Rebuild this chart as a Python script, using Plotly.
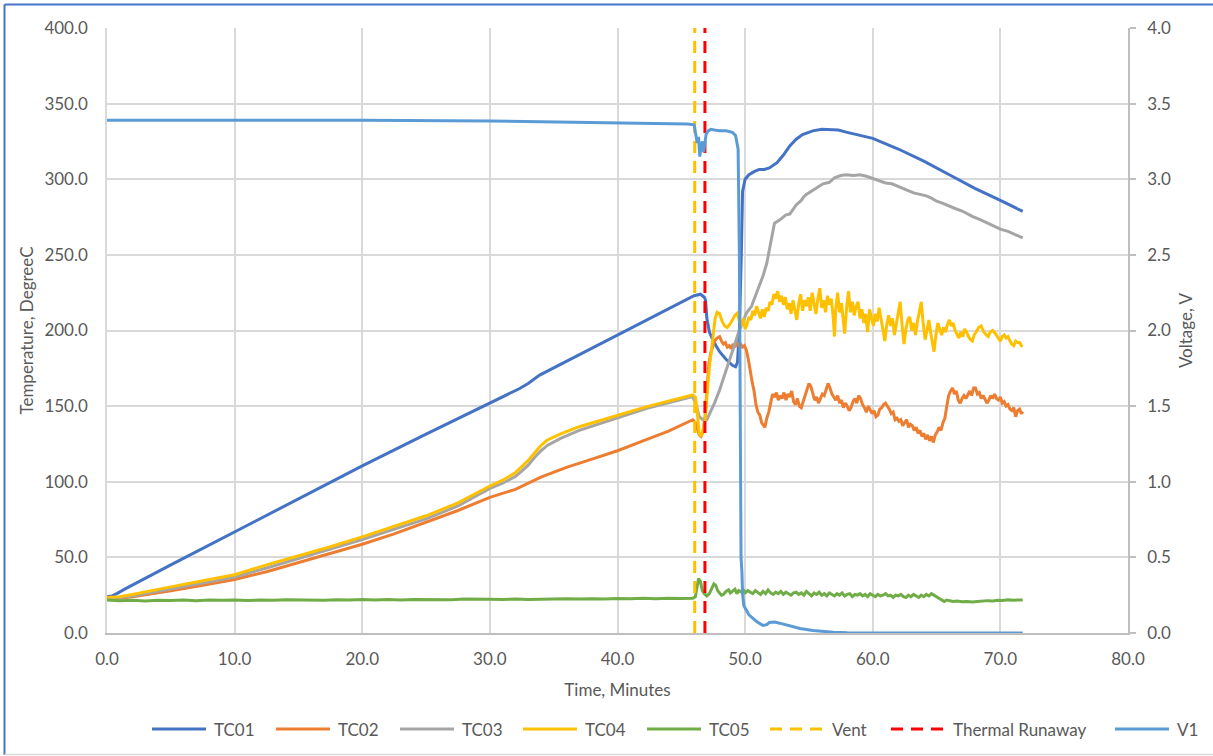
import plotly.graph_objects as go

# ---------------- data ----------------
tc01_t = [0, 0.4, 0.8, 1.5, 5, 10, 15, 20, 25, 30, 31, 31.8, 32.3, 33.0, 33.9, 35, 40, 45, 46.0, 46.5,
          46.8, 46.9, 47.0, 47.2, 47.5, 48.0, 48.5, 49.0, 49.25, 49.4, 49.55, 49.7, 49.8, 50.0, 50.3,
          50.7, 51.1, 51.5, 51.9, 52.5, 53.0, 53.5, 54.0, 54.5, 55.3, 56.0, 56.7, 57.3, 58.0, 59.0,
          60.0, 62.0, 64.0, 66.0, 68.0, 70.0, 71.75]
tc01_v = [24, 24.5, 26.2, 29.5, 45, 67, 89, 110.5, 131.5, 152.3, 156.5, 159.5, 161.5, 165, 170.5, 175.3,
          197, 219, 223, 224, 222, 220, 208, 199, 193, 186, 181, 177, 176, 179, 200, 250, 292, 300, 303,
          305, 306.5, 306.5, 307.5, 311, 316, 322, 326.5, 329.5, 332, 333, 333, 332.5, 331, 329,
          327, 320, 312, 303, 294, 286, 278.8]

tc02_t = [0, 1, 2, 3, 5, 7.5, 10, 12.5, 15, 17.5, 20, 22.5, 25, 27.5, 30, 32, 34, 36, 38, 40, 42, 44,
          45.9, 46.1, 46.25, 46.4, 46.55, 46.7, 46.85, 47.0, 47.15, 47.3, 47.45, 47.6, 47.8, 48.0, 48.15,
          48.3, 48.45, 48.6, 48.75, 48.9, 49.05, 49.2, 49.35, 49.5, 49.65, 49.8, 49.95, 50.1, 50.25,
          50.4, 50.55, 50.7, 50.85, 51.0, 51.15, 51.3, 51.45, 51.55, 51.7, 51.85, 52.0, 52.15, 52.3,
          52.45, 52.6, 52.75, 52.9, 53.05, 53.2, 53.35, 53.5, 53.65, 53.8, 53.95, 54.1, 54.25, 54.4,
          54.55, 54.7, 54.85, 55.0, 55.15, 55.3, 55.45, 55.6, 55.75, 55.9, 56.05, 56.2, 56.35, 56.5,
          56.65, 56.8, 56.95, 57.1, 57.25, 57.4, 57.55, 57.7, 57.85, 58.0, 58.15, 58.3, 58.45, 58.6,
          58.75, 58.9, 59.05, 59.2, 59.35, 59.5, 59.65, 59.8, 59.95, 60.1, 60.25, 60.4, 60.55, 60.7,
          60.85, 61.0, 61.15, 61.3, 61.45, 61.6, 61.75, 61.9, 62.05, 62.2, 62.35, 62.5, 62.65, 62.8,
          62.95, 63.1, 63.25, 63.4, 63.55, 63.7, 63.85, 64.0, 64.15, 64.3, 64.45, 64.6, 64.75, 64.9,
          65.05, 65.2, 65.35, 65.5, 65.65, 65.8, 65.95, 66.1, 66.25, 66.4, 66.55, 66.7, 66.85, 67.0,
          67.15, 67.3, 67.45, 67.6, 67.75, 67.9, 68.05, 68.2, 68.35, 68.5, 68.65, 68.8, 68.95, 69.1,
          69.25, 69.4, 69.55, 69.7, 69.85, 70.0, 70.15, 70.3, 70.45, 70.6, 70.75, 70.9, 71.05, 71.2,
          71.35, 71.5, 71.65, 71.75]
tc02_v = [22.8, 23, 24, 25.5, 28, 31.5, 35.4, 40.5, 46.5, 52.5, 58.7, 65.5, 73.5, 81, 89.7, 95, 103,
          109.5, 115, 120.5, 127, 133.5,
          141, 139, 135, 131, 130, 133, 142, 160, 177, 185, 189, 193, 195, 196, 193,
          191, 192, 189, 190, 188, 191, 189, 192, 190, 191, 189, 190, 187, 181,
          172, 166, 160, 151, 146, 144, 139, 137, 136, 142, 146, 152, 158, 156,
          159, 154, 157, 155, 159, 154, 158, 156, 160, 153, 151, 155, 150, 149,
          153, 158, 161, 165, 163, 158, 154, 156, 152, 155, 158, 157, 161, 165,
          162, 158, 156, 154, 157, 152, 154, 149, 152, 150, 147, 149, 153, 155,
          152, 157, 155, 151, 149, 146, 150, 147, 145, 147, 143, 144, 148, 149,
          151, 152, 150, 148, 145, 146, 141, 142, 140, 141, 137, 139, 141, 136,
          138, 137, 134, 136, 132, 134, 130, 132, 128, 131, 127, 130, 126, 131,
          133, 136, 134, 139, 142, 150, 157, 160, 162, 158, 160, 154, 152, 155,
          157, 155, 158, 160, 157, 162, 162, 158, 159, 155, 157, 154, 152, 154,
          157, 155, 158, 155, 154, 156, 152, 153, 150, 151, 148, 147, 149, 143,
          147, 148, 145, 146.5]

tc03_t = [0, 1, 2, 3, 5, 7.5, 10, 12.5, 15, 17.5, 20, 22.5, 25, 27.5, 30, 31, 32, 32.5, 33, 33.5, 34,
          34.5, 35.5, 37, 39.6, 42.3, 45.9, 46.2, 46.4, 46.7, 47.0, 47.3, 47.6, 48.0, 48.5, 49.0, 49.5,
          50.1, 50.5, 50.9, 51.1, 51.4, 51.7, 52.0, 52.3, 52.7, 53.0, 53.2, 53.5, 53.8, 54.0, 54.4,
          54.6, 54.8, 55.3, 55.7, 56.1, 56.6, 57.0, 57.5, 57.9, 58.5, 59.0, 59.5, 60.0, 60.5, 61.0,
          61.5, 62.1, 62.6, 63.2, 63.7, 64.2, 64.6, 65.0, 65.5, 66.0, 66.5, 67.0, 67.8, 68.5, 69.0,
          69.6, 70.0, 70.6, 71.0, 71.75]
tc03_v = [23, 23.5, 24.5, 26, 29, 33, 37, 43, 49.5, 55.5, 61.8, 68.5, 75.5, 84, 95.6, 99, 103.5, 107,
          111, 116, 120.5, 124, 128.5, 134, 141, 148.5, 156.3, 150, 143, 141, 141, 146, 152, 160.7,
          174, 187, 199, 211.5, 216, 225, 229, 236, 244.6, 258, 271, 273, 275.5, 276.5, 277, 281,
          283, 286, 288.5, 290, 292.5, 295, 297, 298, 301, 302.5, 303, 302.5, 303, 302, 300.5,
          299.5, 297.5, 297, 295, 293.5, 291, 290, 289, 287.5, 285.5, 284, 282, 280.5, 279, 275.5,
          273, 271, 269, 267, 265.5, 264, 261.2]

tc04_t = [0, 1, 2, 3, 5, 7.5, 10, 12.5, 15, 17.5, 20, 22.5, 25, 27.5, 30, 31, 32, 32.5, 33, 33.5, 34,
          34.5, 35.5, 37, 39.6, 42.3, 45.9, 46.1, 46.25, 46.4, 46.55, 46.7, 46.85, 47.0, 47.2, 47.35,
          47.5, 47.65, 47.8, 48.0, 48.2, 48.4, 48.6, 48.8, 49.0, 49.2, 49.4, 49.55, 49.7, 49.85, 50.0,
          50.15, 50.3, 50.45, 50.6, 50.75, 50.9, 51.05, 51.2, 51.35, 51.5, 51.65, 51.8, 51.95, 52.1,
          52.25, 52.4, 52.55, 52.7, 52.85, 53.0, 53.15, 53.3, 53.45, 53.6, 53.75, 53.9, 54.05, 54.2,
          54.35, 54.5, 54.65, 54.8, 54.95, 55.1, 55.25, 55.4, 55.55, 55.7, 55.85, 56.0, 56.15, 56.3,
          56.45, 56.6, 56.75, 56.9, 57.0, 57.1, 57.25, 57.4, 57.55, 57.7, 57.8, 57.95, 58.1, 58.25,
          58.4, 58.55, 58.7, 58.85, 59.0, 59.15, 59.3, 59.45, 59.6, 59.75, 59.9, 60.05, 60.2, 60.35,
          60.5, 60.65, 60.8, 60.95, 61.1, 61.25, 61.4, 61.55, 61.7, 61.85, 62.0, 62.15, 62.3, 62.45,
          62.6, 62.75, 62.9, 63.05, 63.2, 63.35, 63.5, 63.65, 63.8, 63.95, 64.1, 64.25, 64.4, 64.55,
          64.7, 64.8, 64.95, 65.1, 65.25, 65.4, 65.55, 65.7, 65.85, 66.0, 66.15, 66.3, 66.45, 66.6,
          66.75, 66.9, 67.05, 67.2, 67.35, 67.5, 67.65, 67.8, 67.95, 68.1, 68.3, 68.5, 68.7, 68.9,
          69.05, 69.2, 69.4, 69.6, 69.8, 70.0, 70.15, 70.3, 70.45, 70.6, 70.75, 70.9, 71.05, 71.2,
          71.35, 71.5, 71.65, 71.75]
tc04_v = [23.5, 24, 25.5, 27, 30.5, 34.5, 38.5, 45, 51, 57, 63.6, 70.5, 77.5, 86, 97.2, 101, 106, 110,
          114, 119, 124, 127.6, 131.5, 136.4, 143, 149.7, 157.4, 156, 146, 132, 130, 134, 140, 158,
          176, 186, 199, 208, 212, 211, 206, 203, 202, 204, 207, 210, 211.5, 206, 203, 208, 201,
          204, 209, 207, 213, 210, 216, 212, 208, 214, 209, 215, 213, 219, 217,
          224, 221, 226, 219, 223, 217, 222, 214, 218, 211, 220, 214, 207, 218,
          224, 213, 220, 216, 222, 213, 225, 218, 211, 221, 228, 215, 220, 212,
          223, 217, 221, 209, 196, 214, 225, 212, 218, 206, 198, 215, 226, 212,
          219, 210, 216, 219, 208, 214, 205, 211, 199, 214, 209, 203, 211, 206,
          215, 208, 201, 193, 204, 210, 203, 208, 197, 205, 212, 219, 203, 191,
          201, 207, 209, 200, 205, 197, 206, 212, 219, 205, 194, 200, 207, 198,
          190, 186, 197, 205, 201, 197, 202, 199, 204, 207, 203, 205, 200, 197,
          195, 199, 196, 201, 199, 196, 194, 193, 197, 199, 202, 203, 199, 197,
          196, 199, 200, 198, 195, 193, 196, 197, 195, 196, 193, 191, 190, 193,
          192, 192, 190, 190.5]

tc05_t = [0, 1, 2, 3, 4, 5, 6, 7, 8, 9, 10, 11, 12, 13, 14, 15, 16, 17, 18, 19, 20, 21, 22, 23, 24,
          25, 26, 27, 28, 29, 30, 31, 32, 33, 34, 35, 36, 37, 38, 39, 40, 41, 42, 43, 44, 45, 45.9,
          46.1, 46.25, 46.35, 46.5, 46.65, 46.8, 47.0, 47.2, 47.4, 47.55, 47.7, 47.85, 48.0, 48.15,
          48.3, 48.5, 48.7, 48.85, 49.0, 49.2, 49.35, 49.5, 49.7, 49.85, 50.0, 50.2, 50.4, 50.6, 50.8,
          51.0, 51.2, 51.4, 51.6, 51.8, 52.0, 52.2, 52.4, 52.6, 52.8, 53.0, 53.2, 53.4, 53.6, 53.8,
          54.0, 54.2, 54.4, 54.6, 54.8, 55.0, 55.2, 55.4, 55.6, 55.8, 56.0, 56.2, 56.4, 56.6, 56.8,
          57.0, 57.2, 57.4, 57.6, 57.8, 58.0, 58.2, 58.4, 58.6, 58.8, 59.0, 59.2, 59.4, 59.6, 59.8,
          60.0, 60.2, 60.4, 60.6, 60.8, 61.0, 61.2, 61.4, 61.6, 61.8, 62.0, 62.2, 62.4, 62.6, 62.8,
          63.0, 63.2, 63.4, 63.6, 63.8, 64.0, 64.2, 64.4, 64.6, 64.8, 65.0, 65.2, 65.4, 65.6, 65.8,
          66.0, 66.3, 66.6, 67.0, 67.4, 67.8, 68.2, 68.6, 69.0, 69.4, 69.8, 70.2, 70.6, 71.0, 71.4,
          71.75]
tc05_v = [21.8, 21.3, 21.6, 21.2, 21.7, 21.5, 21.9, 21.4, 21.8, 21.6, 21.9, 21.5, 21.8, 21.6, 22.0,
          21.7, 21.9, 21.6, 22.0, 21.8, 22.1, 21.8, 22.2, 21.9, 22.1, 22.0, 22.3, 22.0, 22.4, 22.1,
          22.3, 22.2, 22.5, 22.2, 22.5, 22.3, 22.6, 22.4, 22.7, 22.4, 22.8, 22.6, 22.9, 22.7, 23.0,
          22.8, 23.0,
          24, 31, 36, 34, 28, 26, 24.5, 26, 30, 32.5, 31.5, 28, 26.5, 25,
          25.5, 27.5, 28.5, 26.5, 27.5, 29, 26, 28, 27, 28.5, 26.5, 28, 27, 26, 28,
          26.5, 25.5, 27.5, 26, 28.5, 26.5, 25.5, 27, 26, 27.5, 25.5, 27, 26, 25, 26.5,
          27, 25.5, 26.5, 25, 27.5, 26, 24.5, 26.5, 25.5, 27, 25, 26, 24.5, 26.5, 25.5,
          24.5, 26, 25, 26.5, 24.5, 25.5, 26, 24, 25.5, 25, 26, 24.5, 25.5, 24, 26,
          25, 24, 25.5, 24.5, 25, 26, 24.5, 25, 23.5, 25, 24.5, 25.5, 24, 23.5, 25,
          24, 25.5, 24.5, 23.5, 25, 24, 25.5, 24.5, 26, 25, 24, 23, 21.5, 20.8, 21.8,
          21.5, 20.8, 21.2, 20.6, 20.9, 20.5, 20.8, 21.2, 21.4, 21.2, 21.7, 21.5, 21.9, 21.7, 22.0,
          21.9]

v1_t = [0, 10, 20, 30, 35, 40, 44, 45.5, 46.0, 46.1, 46.25, 46.35, 46.45, 46.55, 46.65, 46.75, 46.85,
        46.95, 47.1, 47.3, 47.6, 48.0, 48.5, 49.0, 49.25, 49.45, 49.55, 49.62, 49.68, 49.75, 49.8,
        49.9, 50.1, 50.3, 50.7, 51.0, 51.4, 51.7, 51.9, 52.3, 52.7, 53.3, 54.3, 55.3, 56.0, 56.9,
        58.0, 60.0, 62.0, 71.75]
v1_v = [3.39, 3.39, 3.39, 3.385, 3.38, 3.375, 3.37, 3.365, 3.36, 3.30, 3.24, 3.28, 3.15, 3.22, 3.25,
        3.18, 3.23, 3.30, 3.32, 3.33, 3.325, 3.32, 3.32, 3.31, 3.29, 3.2, 2.5, 1.0, 0.5, 0.4, 0.26,
        0.18, 0.15, 0.12, 0.09, 0.07, 0.05, 0.055, 0.07, 0.072, 0.065, 0.05, 0.03, 0.017, 0.01, 0.005,
        0.002, 0.001, 0.0, 0.0]

vent_time = 46.05
runaway_time = 46.85

# ---------------- styling ----------------
FONT = "Lato"
TEXT = "#595959"
GRID = "#D9D9D9"
AXIS = "#BFBFBF"

W, H = 1213, 756
M_L, M_R, M_T, M_B = 107, 85, 28, 123
PW, PH = W - M_L - M_R, H - M_T - M_B


def px_x(px):
    return (px - M_L) / PW


def px_y(py):
    return (H - M_B - py) / PH


series = [
    ("TC01", tc01_t, tc01_v, "#4472C4", "solid", "y"),
    ("TC02", tc02_t, tc02_v, "#ED7D31", "solid", "y"),
    ("TC03", tc03_t, tc03_v, "#A5A5A5", "solid", "y"),
    ("TC04", tc04_t, tc04_v, "#FFC000", "solid", "y"),
    ("TC05", tc05_t, tc05_v, "#70AD47", "solid", "y"),
    ("Vent", [vent_time, vent_time], [0, 400], "#FFC000", "12px,8px", "y"),
    ("Thermal Runaway", [runaway_time, runaway_time], [0, 400], "#FF0000", "12px,8px", "y"),
    ("V1", v1_t, v1_v, "#5B9BD5", "solid", "y2"),
]

fig = go.Figure()
for name, xs, ys, color, dash, yax in series:
    fig.add_trace(go.Scatter(
        x=xs, y=ys, name=name, mode="lines", yaxis=yax,
        line=dict(color=color, width=3, dash=dash),
        showlegend=False, hoverinfo="skip",
    ))

# legend drawn along the bottom of the chart
legend_x = [152, 276, 400, 523, 647, 770, 891, 1115]
legend_y = 729
shapes = []
annotations = []
for (name, _, _, color, dash, _), lx in zip(series, legend_x):
    shapes.append(dict(type="line", xref="paper", yref="paper",
                       x0=px_x(lx), x1=px_x(lx + 54), y0=px_y(legend_y), y1=px_y(legend_y),
                       line=dict(color=color, width=3, dash=dash)))
    annotations.append(dict(xref="paper", yref="paper", x=px_x(lx + 60), y=px_y(legend_y),
                            text=name, showarrow=False, xanchor="left", yanchor="middle",
                            font=dict(family=FONT, size=17, color=TEXT)))

# chart frame
shapes += [
    dict(type="line", xref="paper", yref="paper", x0=px_x(4.5), x1=px_x(4.5),
         y0=px_y(4.5), y1=px_y(755), line=dict(color="#4472C4", width=2)),
    dict(type="line", xref="paper", yref="paper", x0=px_x(4.5), x1=px_x(1220),
         y0=px_y(4.5), y1=px_y(4.5), line=dict(color="#4472C4", width=2)),
    dict(type="line", xref="paper", yref="paper", x0=px_x(4.5), x1=px_x(1220),
         y0=px_y(754.5), y1=px_y(754.5), line=dict(color=GRID, width=1.5)),
]

tick_font = dict(family=FONT, size=17, color=TEXT)
title_font = dict(family=FONT, size=17, color=TEXT)

fig.update_layout(
    width=W, height=H,
    margin=dict(l=M_L, r=M_R, t=M_T, b=M_B, autoexpand=False),
    paper_bgcolor="white", plot_bgcolor="white",
    showlegend=False,
    shapes=shapes, annotations=annotations,
    xaxis=dict(range=[0, 80], dtick=10, tick0=0, tickformat=".1f",
               showgrid=True, gridcolor=GRID, gridwidth=1.5, zeroline=False,
               showline=True, linecolor=AXIS, linewidth=1.5,
               ticks="", ticklabelstandoff=10, tickfont=tick_font,
               title=dict(text="Time, Minutes", font=title_font, standoff=16)),
    yaxis=dict(range=[0, 400], dtick=50, tick0=0, tickformat=".1f",
               showgrid=True, gridcolor=GRID, gridwidth=1.5, zeroline=False,
               showline=True, linecolor=GRID, linewidth=1.5,
               ticks="", ticklabelstandoff=14, tickfont=tick_font,
               title=dict(text="Temperature, DegreeC", font=title_font, standoff=6)),
    yaxis2=dict(range=[0, 4], dtick=0.5, tick0=0, tickformat=".1f", overlaying="y", side="right",
                showgrid=False, zeroline=False, showline=True, linecolor=AXIS, linewidth=1.5,
                ticks="outside", ticklen=6, tickcolor=AXIS, tickwidth=1.5,
                ticklabelstandoff=8, tickfont=tick_font,
                title=dict(text="Voltage, V", font=title_font, standoff=10)),
)

fig.write_html("out.html")
